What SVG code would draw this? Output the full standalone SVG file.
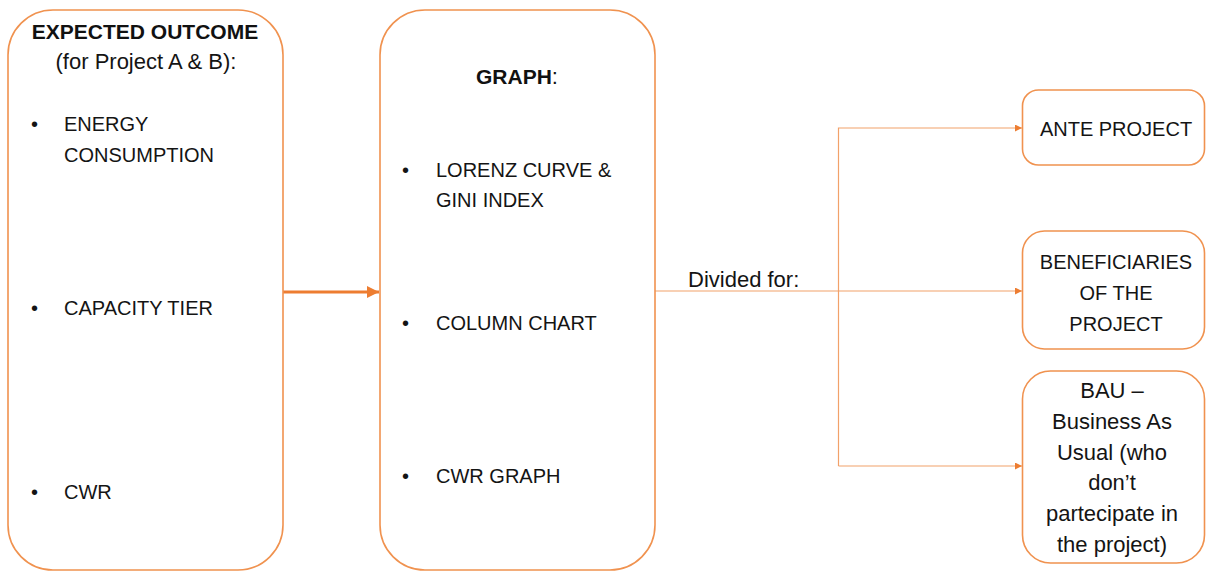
<svg xmlns="http://www.w3.org/2000/svg" width="1206" height="572" viewBox="0 0 1206 572">
  <style>
    .box { fill: #FFFFFF; stroke: #F0924F; stroke-width: 1.6; }
    .caps { font-family: "Liberation Sans", Arial, sans-serif; font-size: 20px; fill: #141414; }
    .mixed { font-family: "Liberation Sans", Arial, sans-serif; font-size: 22px; fill: #141414; }
    .bold { font-family: "Liberation Sans", Arial, sans-serif; font-size: 21px; font-weight: bold; fill: #111111; }
    .ctr { text-anchor: middle; }
    .main { stroke: #ED7D31; stroke-width: 3; fill: none; }
    .branch { stroke: #F2A16A; stroke-width: 1.2; fill: none; }
  </style>
  <defs>
    <marker id="headBig" viewBox="0 0 10 10" refX="10" refY="5" markerWidth="4" markerHeight="4" markerUnits="strokeWidth" orient="auto">
      <path d="M0,0 L10,5 L0,10 Z" fill="#ED7D31"/>
    </marker>
    <marker id="headSmall" viewBox="0 0 10 10" refX="10" refY="5" markerWidth="8" markerHeight="7" markerUnits="userSpaceOnUse" orient="auto">
      <path d="M0,0 L10,5 L0,10 Z" fill="#ED7D31"/>
    </marker>
  </defs>

  <!-- connectors -->
  <g id="connectors">
    <line class="main" x1="283" y1="292" x2="379" y2="292" marker-end="url(#headBig)"/>
    <line class="branch" x1="655" y1="291" x2="1022" y2="291" marker-end="url(#headSmall)"/>
    <polyline class="branch" points="838.5,466 838.5,128 1022,128" marker-end="url(#headSmall)"/>
    <line class="branch" x1="838.5" y1="466" x2="1022" y2="466" marker-end="url(#headSmall)"/>
    <text id="divided-label" class="mixed" x="688" y="287">Divided for:</text>
  </g>

  <!-- expected outcome -->
  <g id="node-outcome">
    <rect class="box" x="8" y="10" width="275" height="560" rx="45" ry="45"/>
    <text class="bold ctr" x="145" y="39">EXPECTED OUTCOME</text>
    <text class="mixed ctr" x="146" y="69">(for Project A &amp; B):</text>
    <text class="caps" x="31" y="131">•</text>
    <text class="caps" x="64" y="131">ENERGY</text>
    <text class="caps" x="64" y="162">CONSUMPTION</text>
    <text class="caps" x="31" y="315">•</text>
    <text class="caps" x="64" y="315">CAPACITY TIER</text>
    <text class="caps" x="31" y="499">•</text>
    <text class="caps" x="64" y="499">CWR</text>
  </g>

  <!-- graph -->
  <g id="node-graph">
    <rect class="box" x="380" y="10" width="275" height="560" rx="45" ry="45"/>
    <text class="ctr" x="517" y="84"><tspan class="bold">GRAPH</tspan><tspan class="mixed">:</tspan></text>
    <text class="caps" x="402" y="177">•</text>
    <text class="caps" x="436" y="177">LORENZ CURVE &amp;</text>
    <text class="caps" x="436" y="207">GINI INDEX</text>
    <text class="caps" x="402" y="330">•</text>
    <text class="caps" x="436" y="330">COLUMN CHART</text>
    <text class="caps" x="402" y="483">•</text>
    <text class="caps" x="436" y="483">CWR GRAPH</text>
  </g>

  <!-- ante project -->
  <g id="node-ante">
    <rect class="box" x="1022.5" y="90" width="182" height="75" rx="16" ry="16"/>
    <text class="caps ctr" x="1116" y="136">ANTE PROJECT</text>
  </g>

  <!-- beneficiaries -->
  <g id="node-beneficiaries">
    <rect class="box" x="1022.5" y="231" width="182" height="118" rx="22" ry="22"/>
    <text class="caps ctr" x="1116" y="269">BENEFICIARIES</text>
    <text class="caps ctr" x="1116" y="300">OF THE</text>
    <text class="caps ctr" x="1116" y="331">PROJECT</text>
  </g>

  <!-- business as usual -->
  <g id="node-bau">
    <rect class="box" x="1022.5" y="371" width="182" height="192" rx="28" ry="28"/>
    <text class="mixed ctr" x="1112" y="398">BAU –</text>
    <text class="mixed ctr" x="1112" y="429">Business As</text>
    <text class="mixed ctr" x="1112" y="460">Usual (who</text>
    <text class="mixed ctr" x="1112" y="490">don’t</text>
    <text class="mixed ctr" x="1112" y="521">partecipate in</text>
    <text class="mixed ctr" x="1112" y="552">the project)</text>
  </g>
</svg>
